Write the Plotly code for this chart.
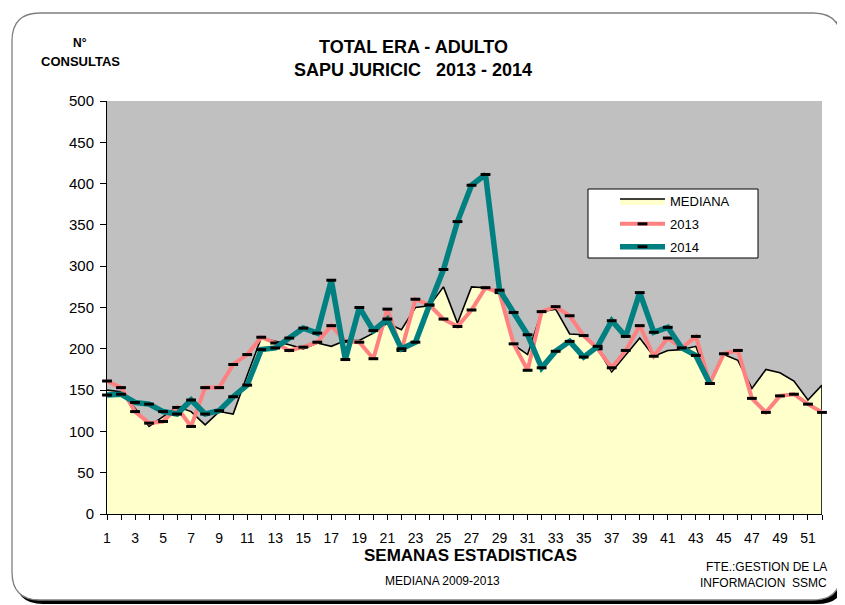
import plotly.graph_objects as go

weeks = list(range(1, 53))
mediana = [150, 148, 128, 106, 118, 130, 124, 108, 124, 121, 168, 213, 209, 205, 200, 207,
           203, 210, 210, 219, 231, 223, 250, 252, 275, 231, 275, 274, 269, 205, 193, 245,
           248, 218, 217, 200, 172, 193, 213, 191, 198, 199, 203, 158, 193, 186, 152, 175,
           171, 161, 138, 156]
y2013 = [161, 153, 124, 110, 112, 129, 106, 153, 153, 181, 193, 214, 207, 198, 202, 208,
         228, 209, 208, 188, 248, 198, 260, 253, 236, 227, 247, 274, 268, 206, 174, 245,
         251, 240, 216, 200, 177, 198, 228, 191, 213, 201, 215, 158, 194, 198, 140, 123,
         143, 145, 133, 123]
weeks2014 = list(range(1, 45))
y2014 = [144, 145, 135, 133, 124, 121, 138, 121, 125, 142, 156, 199, 201, 213, 225, 219,
         283, 187, 250, 222, 236, 200, 208, 253, 296, 354, 398, 411, 271, 244, 217, 177,
         197, 209, 190, 203, 234, 215, 268, 220, 226, 201, 192, 158]
ytick_vals = list(range(0, 501, 50))
xtick_text = [str(w) if w % 2 == 1 else "" for w in weeks]

FONT = "Liberation Sans, Arial, sans-serif"

# page body has an 8px margin; figure is sized to fill the rest of the window
OFF = 8
FW, FH = 845 - OFF, 605 - OFF

# plot area in window pixels
L, R, T, B = 107, 822, 101, 514
W, H = R - L, B - T


def px(x):
    return (x - L) / W


def py(y):
    return (B - y) / H


def rrect(x0, y0, x1, y1, r):
    pts = [
        ("M", (x0 + r, y0)), ("L", (x1 - r, y0)), ("Q", (x1, y0), (x1, y0 + r)),
        ("L", (x1, y1 - r)), ("Q", (x1, y1), (x1 - r, y1)), ("L", (x0 + r, y1)),
        ("Q", (x0, y1), (x0, y1 - r)), ("L", (x0, y0 + r)), ("Q", (x0, y0), (x0 + r, y0)),
    ]
    s = ""
    for p in pts:
        s += p[0] + " " + " ".join(f"{px(a):.5f},{py(b):.5f}" for a, b in p[1:]) + " "
    return s + "Z"


fig = go.Figure()
fig.add_trace(go.Scatter(
    x=weeks, y=mediana, name="MEDIANA", mode="lines", fill="tozeroy",
    fillcolor="#FFFFCC", line=dict(color="black", width=1.6), legendgroup="a"))
fig.add_trace(go.Scatter(
    x=[weeks[-1], weeks[-1]], y=[0, mediana[-1]], mode="lines",
    line=dict(color="black", width=1.6), showlegend=False, hoverinfo="skip"))
fig.add_trace(go.Scatter(
    x=weeks, y=y2013, name="2013", mode="lines+markers", cliponaxis=False,
    line=dict(color="#FF8080", width=4), legendgroup="b",
    marker=dict(symbol="line-ew", size=7, line=dict(color="black", width=3), color="black")))
fig.add_trace(go.Scatter(
    x=weeks2014, y=y2014, name="2014", mode="lines+markers", cliponaxis=False,
    line=dict(color="#008080", width=5.5), legendgroup="c",
    marker=dict(symbol="line-ew", size=7, line=dict(color="black", width=3), color="black")))

shapes = [
    dict(type="path", xref="paper", yref="paper", layer="below",
         path=rrect(15, 16, 845, 604, 28), fillcolor="black", line=dict(width=0)),
    dict(type="path", xref="paper", yref="paper", layer="below",
         path=rrect(12, 13, 841, 600, 28), fillcolor="white", line=dict(color="#7f7f7f", width=1.3)),
    dict(type="rect", xref="paper", yref="paper", layer="below", x0=0, x1=1, y0=0, y1=1,
         fillcolor="#C0C0C0", line=dict(width=0)),
    dict(type="rect", xref="paper", yref="paper", layer="below",
         x0=px(588), x1=px(758), y0=py(258), y1=py(189),
         fillcolor="white", line=dict(color="black", width=1)),
]

annotations = [
    dict(text="<b>TOTAL ERA - ADULTO</b>", x=px(413), y=py(47), font=dict(size=18)),
    dict(text="<b>SAPU JURICIC   2013 - 2014</b>", x=px(413), y=py(70), font=dict(size=18)),
    dict(text="<b>N°</b>", x=px(80), y=py(43), font=dict(size=12)),
    dict(text="<b>CONSULTAS</b>", x=px(80), y=py(61), font=dict(size=13)),
    dict(text="<b>SEMANAS ESTADISTICAS</b>", x=px(471), y=py(555), font=dict(size=17)),
    dict(text="MEDIANA 2009-2013", x=px(442), y=py(581), font=dict(size=12)),
    dict(text="FTE.:GESTION DE LA", x=px(829), y=py(567), xanchor="right", font=dict(size=12)),
    dict(text="INFORMACION  SSMC", x=px(829), y=py(583), xanchor="right", font=dict(size=12)),
]
for a in annotations:
    a.update(xref="paper", yref="paper", showarrow=False, yanchor="middle",
             font=dict(family=FONT, color="black", size=a["font"]["size"]))
    a.setdefault("xanchor", "center")

fig.update_layout(
    width=FW, height=FH,
    margin=dict(l=L - OFF, r=845 - R, t=T - OFF, b=605 - B),
    paper_bgcolor="white", plot_bgcolor="rgba(0,0,0,0)",
    font=dict(family=FONT, color="black"),
    shapes=shapes, annotations=annotations,
    showlegend=True,
    legend=dict(x=px(615), y=py(186), xanchor="left", yanchor="top",
                bgcolor="rgba(0,0,0,0)", borderwidth=0, font=dict(size=13, family=FONT),
                tracegroupgap=3, itemwidth=45, traceorder="grouped"),
    xaxis=dict(range=[1, 52], tickmode="array", tickvals=weeks, ticktext=xtick_text,
               ticks="outside", ticklen=5, tickcolor="black", showline=True,
               linecolor="black", linewidth=1, showgrid=False, zeroline=False,
               tickfont=dict(size=14), tickangle=0, ticklabelstandoff=6),
    yaxis=dict(range=[0, 500], tickmode="array", tickvals=ytick_vals,
               ticks="outside", ticklen=6, tickcolor="black", showline=True,
               linecolor="black", linewidth=1, showgrid=False, zeroline=False,
               tickfont=dict(size=15), ticklabelstandoff=3),
)

fig.write_html("out.html")
